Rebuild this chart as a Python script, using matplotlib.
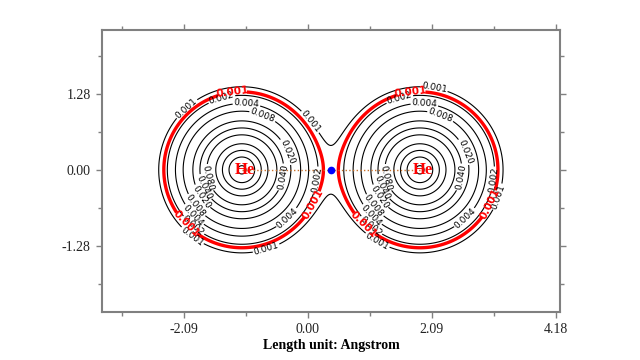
import numpy as np
import matplotlib.pyplot as plt
from matplotlib.ticker import MultipleLocator

# atoms (Angstrom)
atom_x = [-1.11, 1.89]
atom_y = [0.0, 0.0]
atom_names = ['He', 'He']

# radial density of one He atom: core + tail exponentials
core_amp, core_decay = 3.03, 6.4
tail_amp, tail_decay = 0.0823, 3.5

# contour levels
levels = [0.001, 0.002, 0.004, 0.008, 0.02, 0.04, 0.08, 0.2, 0.4, 0.8, 2.0]
red_levels = [0.0015]

# where the labels sit on each ring (angle in degrees around each atom)
label_angles = {
    0.0015: [97, -26, 224],
    0.002: [106, -8, 229],
    0.004: [86, -47, 223],
    0.008: [69, 218],
    0.02: [22, 214],
    0.04: [-10, 205],
    0.08: [193],
}
# outermost ring, one list per atom
outer_angles = [[132, 35, -73, 233], [80, -19, 239]]

# axis ticks
x_ticks = [-2.09, 0.00, 2.09, 4.18]
y_ticks = [-1.28, 0.00, 1.28]
x_lim = (-3.47, 4.25)
y_lim = (-2.40, 2.36)

# density on a grid
xs = np.linspace(x_lim[0], x_lim[1], 900)
ys = np.linspace(y_lim[0], y_lim[1], 560)
X, Y = np.meshgrid(xs, ys)
rho = np.zeros_like(X)
for ax0, ay0 in zip(atom_x, atom_y):
    r = np.sqrt((X - ax0) ** 2 + (Y - ay0) ** 2)
    rho += core_amp * np.exp(-core_decay * r) + tail_amp * np.exp(-tail_decay * r)


def label_spots(cs, lev_list):
    # pick points on the drawn contours at the wanted angles
    spots = []
    for i, lev in enumerate(lev_list):
        if len(cs.allsegs[i]) == 0:
            continue
        v = np.concatenate(cs.allsegs[i])
        for k, (px, py) in enumerate(zip(atom_x, atom_y)):
            angles = outer_angles[k] if lev == 0.001 else label_angles.get(lev, [])
            d = np.hypot(v[:, 0] - px, v[:, 1] - py)
            ang = np.degrees(np.arctan2(v[:, 1] - py, v[:, 0] - px))
            for a in angles:
                diff = np.abs((ang - a + 180) % 360 - 180)
                diff[d > 1.65] = 999
                spots.append(tuple(v[np.argmin(diff)]))
    return spots


fig = plt.figure(figsize=(6.4, 3.6), dpi=100)
ax = fig.add_axes([0.159, 0.133, 0.716, 0.784])

cs = ax.contour(X, Y, rho, levels=levels, colors='black', linewidths=0.8)
ax.clabel(cs, fmt='%.3f', fontsize=6.5, inline=True, inline_spacing=1,
          manual=label_spots(cs, levels))

cs_red = ax.contour(X, Y, rho, levels=red_levels, colors='red', linewidths=2.4)
lbls = ax.clabel(cs_red, fmt={red_levels[0]: '0.001'}, fontsize=7.5, inline=True,
                 inline_spacing=0, manual=label_spots(cs_red, red_levels))
for t in lbls:
    t.set_color('red')
    t.set_fontweight('bold')

# bond path and midpoint critical point
ax.plot(atom_x, atom_y, linestyle=':', color='#c8702a', linewidth=1.0, zorder=3)
ax.plot([np.mean(atom_x)], [np.mean(atom_y)], 'o', color='blue', markersize=4.5, zorder=4)

for name, px, py in zip(atom_names, atom_x, atom_y):
    ax.text(px + 0.05, py, name, color='red', fontsize=12, fontweight='bold',
            family='Liberation Serif', ha='center', va='center', zorder=5)

ax.set_xlim(x_lim)
ax.set_ylim(y_lim)
ax.set_xticks(x_ticks)
ax.set_yticks(y_ticks)
ax.set_xticklabels(['%.2f' % v for v in x_ticks])
ax.set_yticklabels(['%.2f' % v for v in y_ticks])
ax.xaxis.set_minor_locator(MultipleLocator(1.045))
ax.yaxis.set_minor_locator(MultipleLocator(0.64))
ax.tick_params(which='both', direction='out', top=True, right=True,
               color='#808080', width=1.0)
ax.tick_params(which='major', length=4, labelsize=10, pad=4)
ax.tick_params(which='minor', length=3)
for lab in ax.get_xticklabels() + ax.get_yticklabels():
    lab.set_family('Liberation Serif')
    lab.set_color('#222222')
for sp in ax.spines.values():
    sp.set_color('#808080')
    sp.set_linewidth(1.5)

ax.set_xlabel('Length unit: Angstrom', family='Liberation Serif', fontweight='bold',
              fontsize=10, labelpad=2)

fig.savefig('out.png', dpi=100)
